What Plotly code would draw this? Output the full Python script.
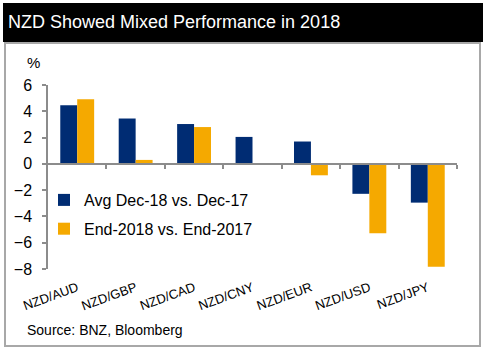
import plotly.graph_objects as go

categories = ["NZD/AUD", "NZD/GBP", "NZD/CAD", "NZD/CNY", "NZD/EUR", "NZD/USD", "NZD/JPY"]
avg_vals = [4.45, 3.45, 3.03, 2.05, 1.7, -2.28, -2.95]
end_vals = [4.92, 0.3, 2.8, 0.0, -0.87, -5.28, -7.82]
series_names = ["Avg Dec-18 vs. Dec-17", "End-2018 vs. End-2017"]
y_ticks = [-8, -6, -4, -2, 0, 2, 4, 6]

W, H = 486, 352
L, R, T, B = 48, 29, 85, 83
PW, PH = W - L - R, H - T - B

def px(x):
    return (x - L) / PW

def py(y):
    return (H - B - y) / PH

NAVY = "#002C73"
GOLD = "#F5A900"
FONT = "Arial, Liberation Sans, sans-serif"

fig = go.Figure()
fig.add_trace(go.Bar(x=categories, y=avg_vals, name=series_names[0], legendgroup="a",
                     marker=dict(color=NAVY, line=dict(width=0))))
fig.add_trace(go.Bar(x=categories, y=end_vals, name=series_names[1], legendgroup="b",
                     marker=dict(color=GOLD, line=dict(width=0))))
# invisible trace to drive the zero-line axis with boundary ticks
fig.add_trace(go.Scatter(x=[-0.5, 6.5], y=[0, 0], xaxis="x2", mode="lines",
                         line=dict(width=0), showlegend=False, hoverinfo="skip"))

fig.update_layout(
    width=W, height=H,
    margin=dict(l=L, r=R, t=T, b=B),
    paper_bgcolor="white", plot_bgcolor="white",
    font=dict(family=FONT, color="black"),
    barmode="group", bargap=0.42, bargroupgap=0,
    xaxis=dict(type="category", showline=False, ticks="", showgrid=False,
               tickangle=-20, tickfont=dict(size=13, family=FONT), zeroline=False,
               ticklabelstandoff=8),
    xaxis2=dict(overlaying="x", anchor="free", position=8 / 14, range=[-0.5, 6.5],
                showline=True, linecolor="#8C8C8C", linewidth=1.5,
                tickmode="array", tickvals=[0.5, 1.5, 2.5, 3.5, 4.5, 5.5, 6.5],
                ticks="outside", ticklen=4, tickcolor="#8C8C8C", tickwidth=1.5,
                showticklabels=False, showgrid=False, zeroline=False),
    yaxis=dict(range=[-8, 6], tickvals=y_ticks, showgrid=False, zeroline=False,
               showline=True, linecolor="#8C8C8C", linewidth=1.5,
               ticks="outside", ticklen=4, tickcolor="#8C8C8C", tickwidth=1.5,
               tickfont=dict(size=16, family=FONT), ticklabelstandoff=7),
    legend=dict(x=px(44), y=py(183), xanchor="left", yanchor="top",
                font=dict(size=16, family=FONT), bgcolor="rgba(0,0,0,0)",
                traceorder="grouped", itemwidth=30, tracegroupgap=5),
    showlegend=True,
)

fig.add_shape(type="rect", xref="paper", yref="paper",
              x0=px(3), x1=px(483), y0=py(42), y1=py(3),
              fillcolor="black", line=dict(width=0), layer="below")
fig.add_shape(type="rect", xref="paper", yref="paper",
              x0=px(5), x1=px(480), y0=py(346), y1=py(43),
              fillcolor="rgba(0,0,0,0)", line=dict(color="#A8A8A8", width=2), layer="below")

fig.add_annotation(text="NZD Showed Mixed Performance in 2018", xref="paper", yref="paper",
                   x=px(6), y=py(22), xanchor="left", yanchor="middle", showarrow=False,
                   font=dict(size=18, color="white", family=FONT))
fig.add_annotation(text="%", xref="paper", yref="paper",
                   x=px(25), y=py(63), xanchor="left", yanchor="middle", showarrow=False,
                   font=dict(size=15, family=FONT))
fig.add_annotation(text="Source: BNZ, Bloomberg", xref="paper", yref="paper",
                   x=px(25), y=py(330), xanchor="left", yanchor="middle", showarrow=False,
                   font=dict(size=14, family=FONT))

fig.write_html("out.html")
